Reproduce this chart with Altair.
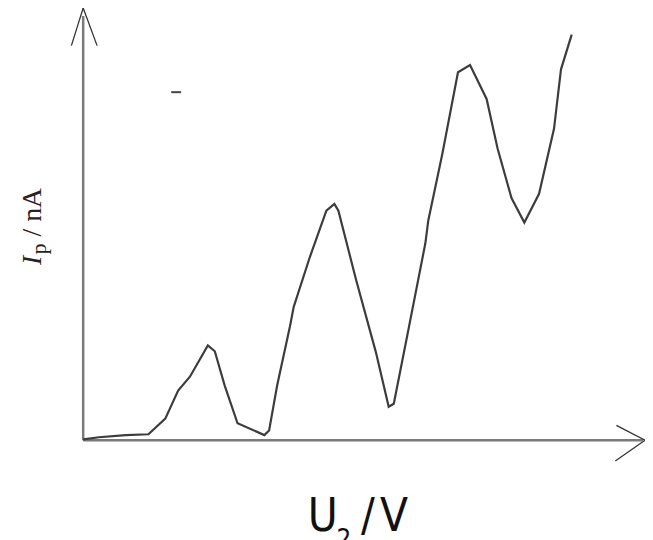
import altair as alt
import pandas as pd

# Franck-Hertz curve
U_volts = [0, 0.59, 1.59, 2.44, 3.07, 3.55, 3.99, 4.66, 4.92, 5.29,
           5.77, 6.77, 6.95, 7.25, 7.73, 7.87, 8.47, 9.09, 9.39, 9.54,
           10.20, 10.94, 11.42, 11.61, 12.16, 12.79, 12.90, 13.42, 14.01, 14.46,
           15.08, 15.49, 16.01, 16.49, 17.04, 17.60, 17.86, 18.26]
I_nA = [0.02, 0.07, 0.12, 0.14, 0.51, 1.17, 1.50, 2.24, 2.10, 1.29,
        0.40, 0.12, 0.23, 1.29, 2.69, 3.15, 4.32, 5.42, 5.58, 5.42,
        3.79, 2.08, 0.79, 0.86, 2.62, 4.65, 5.19, 6.75, 8.69, 8.86,
        8.06, 6.89, 5.72, 5.14, 5.82, 7.36, 8.76, 9.58]

# axis lines (data units)
axis_x0 = [0, 0]
axis_x1 = [0, 20.92]
axis_y0 = [0, 0]
axis_y1 = [10.02, 0]

# arrow-head arms (data units)
arm_x0 = [0, 0, 21.0, 21.0]
arm_y0 = [10.21, 10.21, 0, 0]
arm_x1 = [-0.44, 0.52, 19.93, 19.89]
arm_y1 = [9.32, 9.32, 0.35, -0.49]

# stray dash
dash_x = [3.29]
dash_x2 = [3.66]
dash_y = [8.22]

xs = alt.Scale(domain=[0, 21], nice=False, zero=False)
ys = alt.Scale(domain=[0, 10], nice=False, zero=False)

curve_df = pd.DataFrame({"U": U_volts, "I": I_nA, "o": list(range(len(U_volts)))})
axes_df = pd.DataFrame({"x": axis_x0, "x2": axis_x1, "y": axis_y0, "y2": axis_y1})
arms_df = pd.DataFrame({"x": arm_x0, "x2": arm_x1, "y": arm_y0, "y2": arm_y1})
dash_df = pd.DataFrame({"x": dash_x, "x2": dash_x2, "y": dash_y})

axes = alt.Chart(axes_df).mark_rule(color="#7a7a7a", strokeWidth=2.5).encode(
    x=alt.X("x:Q", scale=xs, axis=None), x2="x2:Q",
    y=alt.Y("y:Q", scale=ys, axis=None), y2="y2:Q")

arms = alt.Chart(arms_df).mark_rule(color="#333333", strokeWidth=1.3).encode(
    x=alt.X("x:Q", scale=xs, axis=None), x2="x2:Q",
    y=alt.Y("y:Q", scale=ys, axis=None), y2="y2:Q")

dash = alt.Chart(dash_df).mark_rule(color="#444444", strokeWidth=2).encode(
    x=alt.X("x:Q", scale=xs, axis=None), x2="x2:Q",
    y=alt.Y("y:Q", scale=ys, axis=None))

curve = alt.Chart(curve_df).mark_line(color="#3c3c3c", strokeWidth=2.2).encode(
    x=alt.X("U:Q", scale=xs, axis=None),
    y=alt.Y("I:Q", scale=ys, axis=None),
    order="o:Q")

one = pd.DataFrame({"a": [0]})
narrow = "Liberation Sans Narrow, DejaVu Sans Condensed, Liberation Sans"
serif = "Liberation Serif, Times New Roman, serif"


def txt(t, x, y, size, font, angle=0, style="normal", color="#111111"):
    return alt.Chart(one).mark_text(
        text=t, align="left", baseline="alphabetic", fontSize=size,
        font=font, angle=angle, fontStyle=style, color=color
    ).encode(x=alt.value(x), y=alt.value(y))


labels = [
    txt("U", 227, 520, 46, narrow),
    txt("2", 256, 537, 26, narrow),
    txt("/", 281, 520, 46, narrow),
    txt("V", 300, 520, 46, narrow),
    txt("I", -43, 251, 28, serif, angle=270, style="italic", color="#2a2222"),
    txt("p", -38, 240, 22, serif, angle=270, color="#2a2222"),
    txt("/ nA", -43, 222, 28, serif, angle=270, color="#2a2222"),
]

chart = alt.layer(axes, curve, arms, dash, *labels).properties(
    width=568, height=428, autosize="none", background="white",
    padding={"left": 76, "top": 6, "right": 0, "bottom": 98}
).configure_view(stroke=None)

chart.save("out.html", embed_options={"renderer": "svg", "actions": False})
